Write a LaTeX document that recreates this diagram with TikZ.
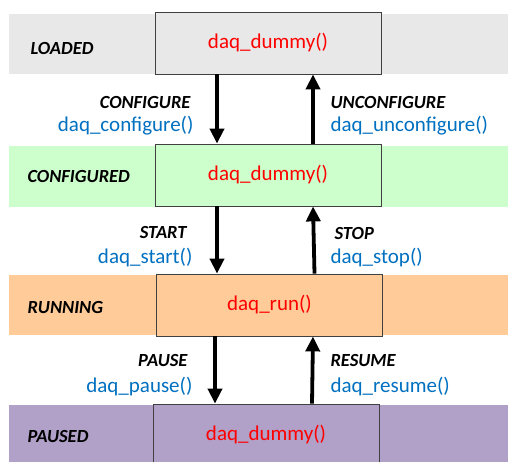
\documentclass[tikz,border=0pt]{standalone}
\usepackage{fontspec}
\setmainfont{Carlito}
\usetikzlibrary{arrows.meta, positioning}

\definecolor{loadgray}{HTML}{E8E8E8}
\definecolor{confgreen}{HTML}{CCFFCC}
\definecolor{runorange}{HTML}{FFCC99}
\definecolor{pausepurple}{HTML}{B1A0C7}
\definecolor{fnblue}{HTML}{0070C0}

\begin{document}
\begin{tikzpicture}
[x=1pt, y=-1pt,
 >={Triangle[width=14pt,length=15pt]},
 trans/.style={->, line width=3.8pt},
 every state/.style={draw=black!75, line width=0.8pt, minimum width=226pt,
 minimum height=62pt, text=red, font=\fontsize{21}{24}\selectfont},
 level/.style={anchor=west, font=\fontsize{18.5}{22}\selectfont\bfseries\itshape},
 event/.style={font=\fontsize{18.5}{22}\selectfont\bfseries\itshape},
 func/.style={text=fnblue, font=\fontsize{21}{24}\selectfont},
]
\useasboundingbox (0,0) rectangle (508,461);

% background bands
\fill[loadgray]    (9,14)  rectangle (508,74);
\fill[confgreen]   (9,146) rectangle (508,207);
\fill[runorange]   (9,275) rectangle (508,335);
\fill[pausepurple] (9,405) rectangle (508,470);

\node[level] (lloaded)     at (27,48)  {LOADED};
\node[level] (lconfigured) at (24,176) {CONFIGURED};
\node[level] (lrunning)    at (24,307) {RUNNING};
\node[level] (lpaused)     at (24,437) {PAUSED};

% state boxes
\node[every state, fill=loadgray]    (loaded)     at (268,43)  {daq\_dummy()};
\node[every state, fill=confgreen]   (configured) at (268,175) {daq\_dummy()};
\node[every state, fill=runorange]   (running)    at (269.5,305) {daq\_run()};
\node[every state, fill=pausepurple] (paused)     at (266,435) {daq\_dummy()};

% transitions
\draw[trans] ([xshift=-51pt]loaded.south)     -- ([xshift=-51pt]configured.north);
\draw[trans] ([xshift=45pt]configured.north)  -- ([xshift=45pt]loaded.south);
\draw[trans] ([xshift=-51pt]configured.south) -- ([xshift=-52.5pt]running.north);
\draw[trans] ([xshift=45pt]running.north)     -- ([xshift=45pt]configured.south);
\draw[trans] ([xshift=-54.5pt]running.south)  -- ([xshift=-51pt]paused.north);
\draw[trans] ([xshift=46pt]paused.north)      -- ([xshift=43.5pt]running.south);

\node[event, anchor=east] (configure)      at (194,102) {CONFIGURE};
\node[func,  anchor=east] (daqconfigure)   at (197,126) {daq\_configure()};
\node[event, anchor=west] (unconfigure)    at (327,102) {UNCONFIGURE};
\node[func,  anchor=west] (daqunconfigure) at (327,126) {daq\_unconfigure()};

\node[event, anchor=east] (start)    at (190,233) {START};
\node[func,  anchor=east] (daqstart) at (196,258) {daq\_start()};
\node[event, anchor=west] (stop)     at (331,233) {STOP};
\node[func,  anchor=west] (daqstop)  at (327,258) {daq\_stop()};

\node[event, anchor=east] (pause)     at (191,361) {PAUSE};
\node[func,  anchor=east] (daqpause)  at (196,387) {daq\_pause()};
\node[event, anchor=west] (resume)    at (327,361) {RESUME};
\node[func,  anchor=west] (daqresume) at (327,387) {daq\_resume()};
\end{tikzpicture}
\end{document}
